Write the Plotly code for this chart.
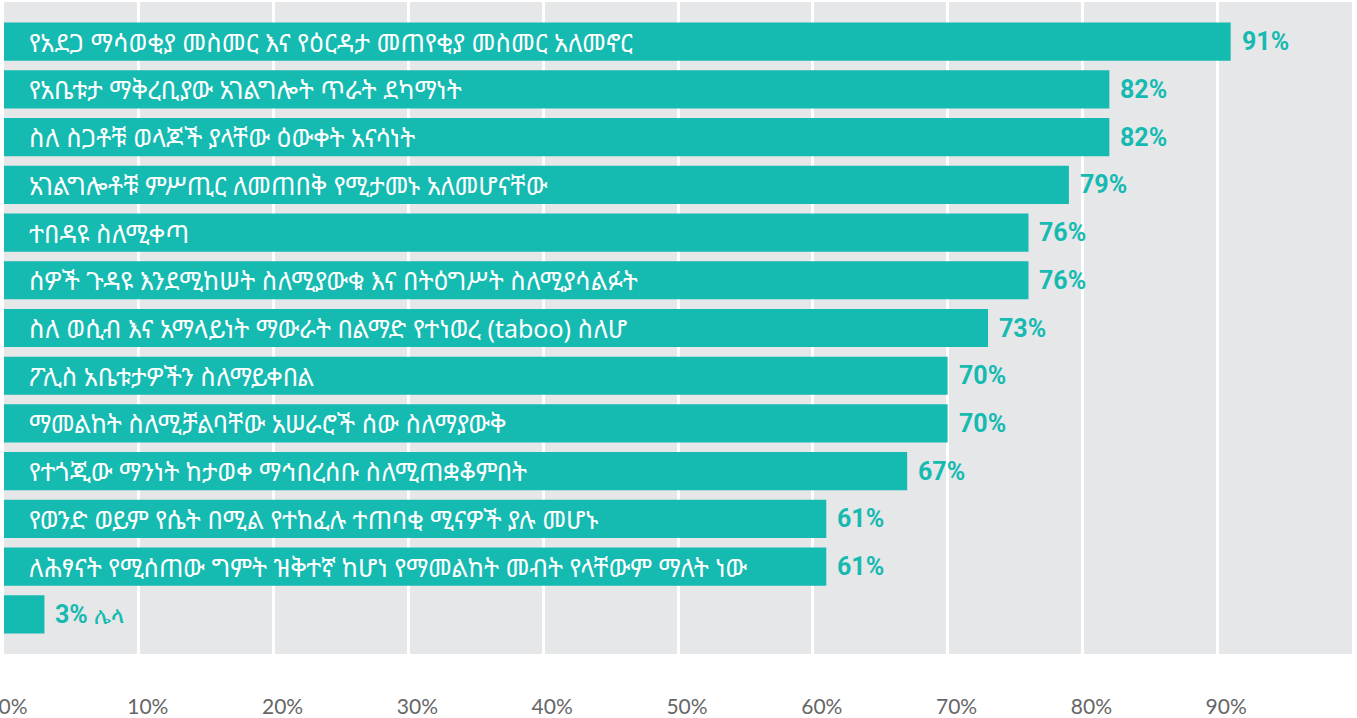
import plotly.graph_objects as go

categories = [
    "የአደጋ ማሳወቂያ መስመር እና የዕርዳታ መጠየቂያ መስመር አለመኖር",
    "የአቤቱታ ማቅረቢያው አገልግሎት ጥራት ደካማነት",
    "ስለ ስጋቶቹ ወላጆች ያላቸው ዕውቀት አናሳነት",
    "አገልግሎቶቹ ምሥጢር ለመጠበቅ የሚታመኑ አለመሆናቸው",
    "ተበዳዩ ስለሚቀጣ",
    "ሰዎች ጉዳዩ እንደሚከሠት ስለሚያውቁ እና በትዕግሥት ስለሚያሳልፉት",
    "ስለ ወሲብ እና አማላይነት ማውራት በልማድ የተነወረ (taboo) ስለሆ",
    "ፖሊስ አቤቱታዎችን ስለማይቀበል",
    "ማመልከት ስለሚቻልባቸው አሠራሮች ሰው ስለማያውቅ",
    "የተጎጂው ማንነት ከታወቀ ማኅበረሰቡ ስለሚጠቋቆምበት",
    "የወንድ ወይም የሴት በሚል የተከፈሉ ተጠባቂ ሚናዎች ያሉ መሆኑ",
    "ለሕፃናት የሚሰጠው ግምት ዝቅተኛ ከሆነ የማመልከት መብት የላቸውም ማለት ነው",
    "ሌላ",
]
values = [91, 82, 82, 79, 76, 76, 73, 70, 70, 67, 61, 61, 3]
tick_vals = [0, 10, 20, 30, 40, 50, 60, 70, 80, 90]
tick_text = ["0%", "10%", "20%", "30%", "40%", "50%", "60%", "70%", "80%", "90%"]

TEAL = "#15BAB1"
GREY = "#E6E7E9"
ETH_FONT = "Noto Sans Ethiopic, Abyssinica SIL, DejaVu Sans, sans-serif"
NUM_FONT = "Roboto, DejaVu Sans Condensed, sans-serif"

fig = go.Figure()
fig.add_trace(go.Bar(
    x=values,
    y=categories,
    orientation="h",
    marker=dict(color=TEAL, line=dict(width=0)),
    width=0.8,
    hoverinfo="skip",
))

annotations = []
n = len(categories)
for i, (c, v) in enumerate(zip(categories, values)):
    if i < n - 1:
        annotations.append(dict(
            x=0, y=c, xref="x", yref="y", text=c, showarrow=False,
            xanchor="left", yanchor="middle", xshift=23,
            font=dict(family=ETH_FONT, size=25, color="white"),
        ))
        annotations.append(dict(
            x=v, y=c, xref="x", yref="y", text="<b>%d%%</b>" % v, showarrow=False,
            xanchor="left", yanchor="middle", xshift=9,
            font=dict(family=NUM_FONT, size=25, color=TEAL),
        ))
    else:
        annotations.append(dict(
            x=v, y=c, xref="x", yref="y",
            text="<b>%d%%</b> <span style='font-family:%s;font-weight:normal;font-size:23px'>%s</span>" % (v, "DejaVu Sans", c),
            showarrow=False, xanchor="left", yanchor="middle", xshift=9,
            font=dict(family=NUM_FONT, size=25, color=TEAL),
        ))

fig.update_layout(
    width=1357, height=718,
    margin=dict(l=4, r=5, t=2, b=64, autoexpand=False),
    paper_bgcolor="white",
    plot_bgcolor=GREY,
    showlegend=False,
    bargap=0.2,
    annotations=annotations,
    xaxis=dict(
        range=[0, 100], tickvals=tick_vals, ticktext=tick_text,
        showgrid=True, gridcolor="white", gridwidth=2.5,
        zeroline=False, showline=False, automargin=False,
        ticks="", ticklabelstandoff=38, ticklabelshift=9,
        ticklabeloverflow="allow",
        tickfont=dict(family="Lato, Open Sans, sans-serif", size=21, color="#666666"),
    ),
    yaxis=dict(
        type="category", categoryorder="array", categoryarray=categories,
        range=[n - 1 + 0.83, -0.83], automargin=False,
        showticklabels=False, showgrid=False, zeroline=False, showline=False,
    ),
)

fig.write_html(
    "out.html",
    config={"displayModeBar": False},
    post_script="document.body.style.margin='0';document.body.style.overflow='hidden';",
)
